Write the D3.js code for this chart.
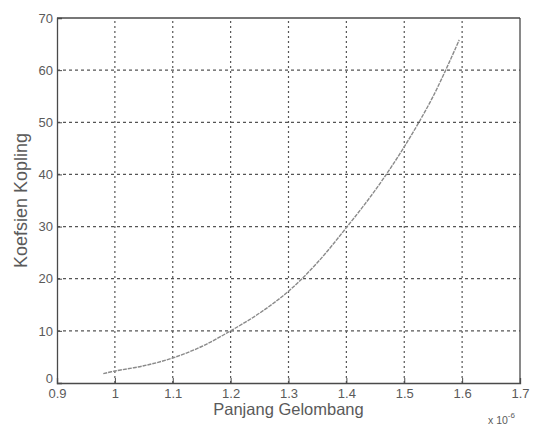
<!DOCTYPE html>
<html>
<head>
<meta charset="utf-8">
<script src="https://cdn.jsdelivr.net/npm/d3@7"></script>
<style>
  body { margin: 0; background: #fff; }
  svg { display: block; font-family: "Liberation Sans", Arial, sans-serif; }
</style>
</head>
<body>
<script>
'use strict';

// wavelength (x 1e-6) and coupling coefficient
const wavelength = [0.98, 1.0, 1.05, 1.1, 1.15, 1.2, 1.25, 1.3, 1.35, 1.4, 1.45, 1.5, 1.55, 1.595];
const coupling   = [1.8, 2.3, 3.3, 4.8, 7.0, 10.0, 13.4, 17.6, 23.1, 29.8, 37.0, 45.3, 55.0, 65.8];

const xTicks = [0.9, 1, 1.1, 1.2, 1.3, 1.4, 1.5, 1.6, 1.7];
const yTicks = [0, 10, 20, 30, 40, 50, 60, 70];

const width = 540, height = 429;
const margin = { left: 57, right: 20, top: 18, bottom: 46 };

const svg = d3.select('body').append('svg')
  .attr('width', width)
  .attr('height', height);

const x = d3.scaleLinear().domain([0.9, 1.7]).range([margin.left, width - margin.right]);
const y = d3.scaleLinear().domain([0, 70]).range([height - margin.bottom, margin.top]);

const axisColor = '#4a4a4a';
const textColor = '#5a5a5a';

// grid lines
svg.append('g').selectAll('line')
  .data(xTicks.slice(1, -1))
  .enter().append('line')
    .attr('x1', d => x(d)).attr('x2', d => x(d))
    .attr('y1', y(0)).attr('y2', y(70))
    .attr('stroke', '#555')
    .attr('stroke-width', 1.2)
    .attr('stroke-dasharray', '2,3');

svg.append('g').selectAll('line')
  .data(yTicks.slice(1, -1))
  .enter().append('line')
    .attr('x1', x(0.9)).attr('x2', x(1.7))
    .attr('y1', d => y(d)).attr('y2', d => y(d))
    .attr('stroke', '#555')
    .attr('stroke-width', 1.2)
    .attr('stroke-dasharray', '3,3');

// axes with inward ticks (matlab style)
const xAxis = d3.axisBottom(x).tickValues(xTicks).tickSize(-5).tickFormat(d3.format('~g'));
const yAxis = d3.axisLeft(y).tickValues(yTicks).tickSize(-5);

const gx = svg.append('g')
  .attr('transform', `translate(0, ${y(0)})`)
  .call(xAxis);
const gy = svg.append('g')
  .attr('transform', `translate(${x(0.9)}, 0)`)
  .call(yAxis);

[gx, gy].forEach(g => {
  g.select('.domain').attr('stroke', axisColor).attr('stroke-width', 1.3);
  g.selectAll('.tick line').attr('stroke', axisColor);
  g.selectAll('.tick text')
    .attr('fill', textColor)
    .style('font-size', '13px')
    .style('font-family', '"Liberation Sans", Arial, sans-serif');
});
gx.selectAll('.tick text').attr('dy', '0.9em');
gy.selectAll('.tick text').attr('dx', '-1px');
// the 0 label sits a bit higher in the original
gy.selectAll('.tick text').filter(d => d === 0).attr('dy', '-0.05em');

// top and right box edges
svg.append('line')
  .attr('x1', x(0.9)).attr('x2', x(1.7))
  .attr('y1', y(70)).attr('y2', y(70))
  .attr('stroke', axisColor).attr('stroke-width', 1.3);
svg.append('line')
  .attr('x1', x(1.7)).attr('x2', x(1.7))
  .attr('y1', y(70)).attr('y2', y(0))
  .attr('stroke', axisColor).attr('stroke-width', 1.3);

// curve
const line = d3.line()
  .x((d, i) => x(wavelength[i]))
  .y(d => y(d))
  .curve(d3.curveCatmullRom);

svg.append('path')
  .datum(coupling)
  .attr('fill', 'none')
  .attr('stroke', '#8a8a8a')
  .attr('stroke-width', 1.4)
  .attr('stroke-dasharray', '4,1')
  .attr('d', line);

// labels
svg.append('text')
  .attr('x', (x(0.9) + x(1.7)) / 2)
  .attr('y', 415)
  .attr('text-anchor', 'middle')
  .attr('fill', textColor)
  .style('font-size', '16.5px')
  .text('Panjang Gelombang');

svg.append('text')
  .attr('transform', `translate(27, ${(y(0) + y(70)) / 2}) rotate(-90)`)
  .attr('text-anchor', 'middle')
  .attr('fill', textColor)
  .style('font-size', '18px')
  .text('Koefsien Kopling');

const expo = svg.append('text')
  .attr('x', 488)
  .attr('y', 424)
  .attr('fill', textColor)
  .style('font-size', '10.5px');
expo.append('tspan').text('x 10');
expo.append('tspan').attr('dy', -6).style('font-size', '8px').text('-6');
</script>
</body>
</html>
